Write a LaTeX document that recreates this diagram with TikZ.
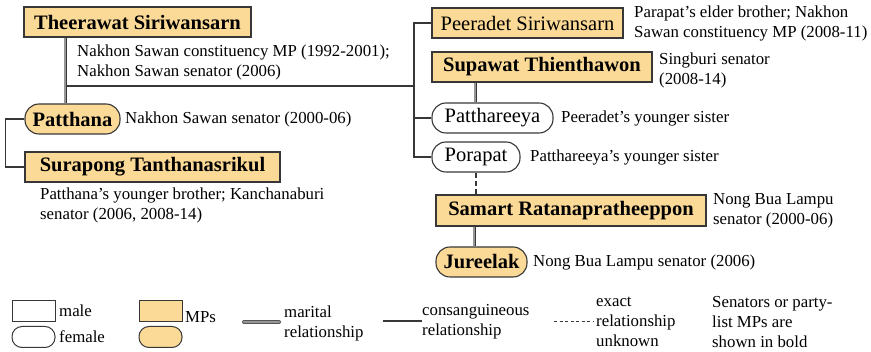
\documentclass[tikz,border=0pt]{standalone}
\usepackage{fontspec}
\setmainfont{Liberation Serif}
\definecolor{mpfill}{RGB}{251,217,150}
\definecolor{edge}{RGB}{55,55,55}
\definecolor{marigray}{RGB}{150,150,150}
\tikzset{
  person/.style={draw=edge, line width=1.1pt, inner sep=0pt, minimum height=30pt,
    font=\fontsize{20.5}{24}\selectfont},
  male/.style={person},
  female/.style={person, rounded corners=14pt},
  mp/.style={fill=mpfill},
  senator/.style={font=\fontsize{20.5}{24}\selectfont\bfseries},
  note/.style={anchor=west, align=left, inner sep=0pt,
    font=\fontsize{16.8}{20}\selectfont},
  kin/.style={draw=edge, line width=1.1pt},
  marital/.style={draw=edge, line width=0.8pt, double=marigray, double distance=2pt},
  unknownrel/.style={draw=edge, line width=1.1pt, dash pattern=on 5pt off 3pt},
  legendbox/.style={draw=edge, line width=1pt, inner sep=0pt, minimum width=43pt, minimum height=21pt},
}
\begin{document}
\begin{tikzpicture}[x=1pt, y=-1pt]
\useasboundingbox (0,0) rectangle (871,352);

% family tree people
\node[male, mp, senator, minimum width=227pt] (theer) at (137.5,22) {Theerawat Siriwansarn};
\node[female, mp, senator, minimum width=95pt] (patth) at (72.5,119) {Patthana};
\node[male, mp, senator, minimum width=255pt] (surap) at (152.5,167) {Surapong Tanthanasrikul};
\node[male, mp, minimum width=191pt] (peer) at (527.5,23) {Peeradet Siriwansarn};
\node[male, mp, senator, minimum width=220pt] (supa) at (542,67) {Supawat Thienthawon};
\node[female, minimum width=121pt] (pthr) at (492.5,118) {Patthareeya};
\node[female, minimum width=88pt] (pora) at (476,157) {Porapat};
\node[male, mp, senator, minimum width=270pt, minimum height=31pt] (sama) at (571,210.5) {Samart Ratanapratheeppon};
\node[female, mp, senator, minimum width=91pt] (jure) at (481.5,262) {Jureelak};

% notes
\node[note] (theerN) at (77,62) {Nakhon Sawan constituency MP (1992-2001);\\Nakhon Sawan senator (2006)};
\node[note] (patthN) at (125,119) {Nakhon Sawan senator (2000-06)};
\node[note] (surapN) at (40,205) {Patthana’s younger brother; Kanchanaburi\\senator (2006, 2008-14)};
\node[note] (peerN) at (634,23) {Parapat’s elder brother; Nakhon\\Sawan constituency MP (2008-11)};
\node[note] (supaN) at (659,70) {Singburi senator\\(2008-14)};
\node[note] (pthrN) at (561,118) {Peeradet’s younger sister};
\node[note] (poraN) at (530,157) {Patthareeya’s younger sister};
\node[note] (samaN) at (713,211) {Nong Bua Lampu\\senator (2000-06)};
\node[note] (jureN) at (533,262) {Nong Bua Lampu senator (2006)};

% connectors
\coordinate (tm) at ([xshift=42pt]theer.south west);
\coordinate (hub) at (414,86);
\draw[kin] (tm |- hub) -- (hub);
\draw[kin] (hub) |- (peer.west);
\draw[kin] (hub) |- (pora.west);
\draw[kin] (pthr.west -| hub) -- (pthr.west);
\draw[kin] (patth.west) -- ++(-19,0) |- (surap.west);
\draw[marital] (tm) -- (tm |- patth.north);
\coordinate (sm) at ([xshift=44pt]supa.south west);
\draw[marital] (sm) -- (sm |- pthr.north);
\draw[unknownrel] (pora.south) -- (pora.south |- sama.north);
\coordinate (rm) at ([xshift=39pt]sama.south west);
\draw[marital] (rm) -- (rm |- jure.north);

% legend
\node[legendbox] (lgM) at (33.5,311) {};
\node[legendbox, rounded corners=10pt] (lgF) at (33.5,337) {};
\node[note] (lgMt) at (59,311) {male};
\node[note] (lgFt) at (59,337) {female};
\node[legendbox, fill=mpfill] (lgP1) at (160.5,311) {};
\node[legendbox, fill=mpfill, rounded corners=10pt] (lgP2) at (160.5,337) {};
\node[note] (lgPt) at (185,317) {MPs};
\node[note] (lgMar) at (284,323) {marital\\relationship};
\coordinate (lm1) at (244,322);
\coordinate (lm2) at (279,322);
\draw[draw=edge!85, line width=4pt, line cap=round] (lm1) -- (lm2);
\draw[draw=marigray, line width=2.2pt, line cap=round] (lm1) -- (lm2);
\node[note] (lgKin) at (422,322) {consanguineous\\relationship};
\coordinate (lk1) at (383,321);
\draw[kin] (lk1) -- (lgKin.west |- lk1);
\node[note] (lgUnk) at (596,322) {exact\\relationship\\unknown};
\coordinate (lu1) at (554,322);
\draw[draw=edge, line width=1pt, dash pattern=on 3pt off 2.5pt] (lu1) -- ([xshift=-2pt]lgUnk.west);
\node[note] (lgBold) at (712,322) {Senators or party-\\list MPs are\\shown in bold};
\end{tikzpicture}
\end{document}
